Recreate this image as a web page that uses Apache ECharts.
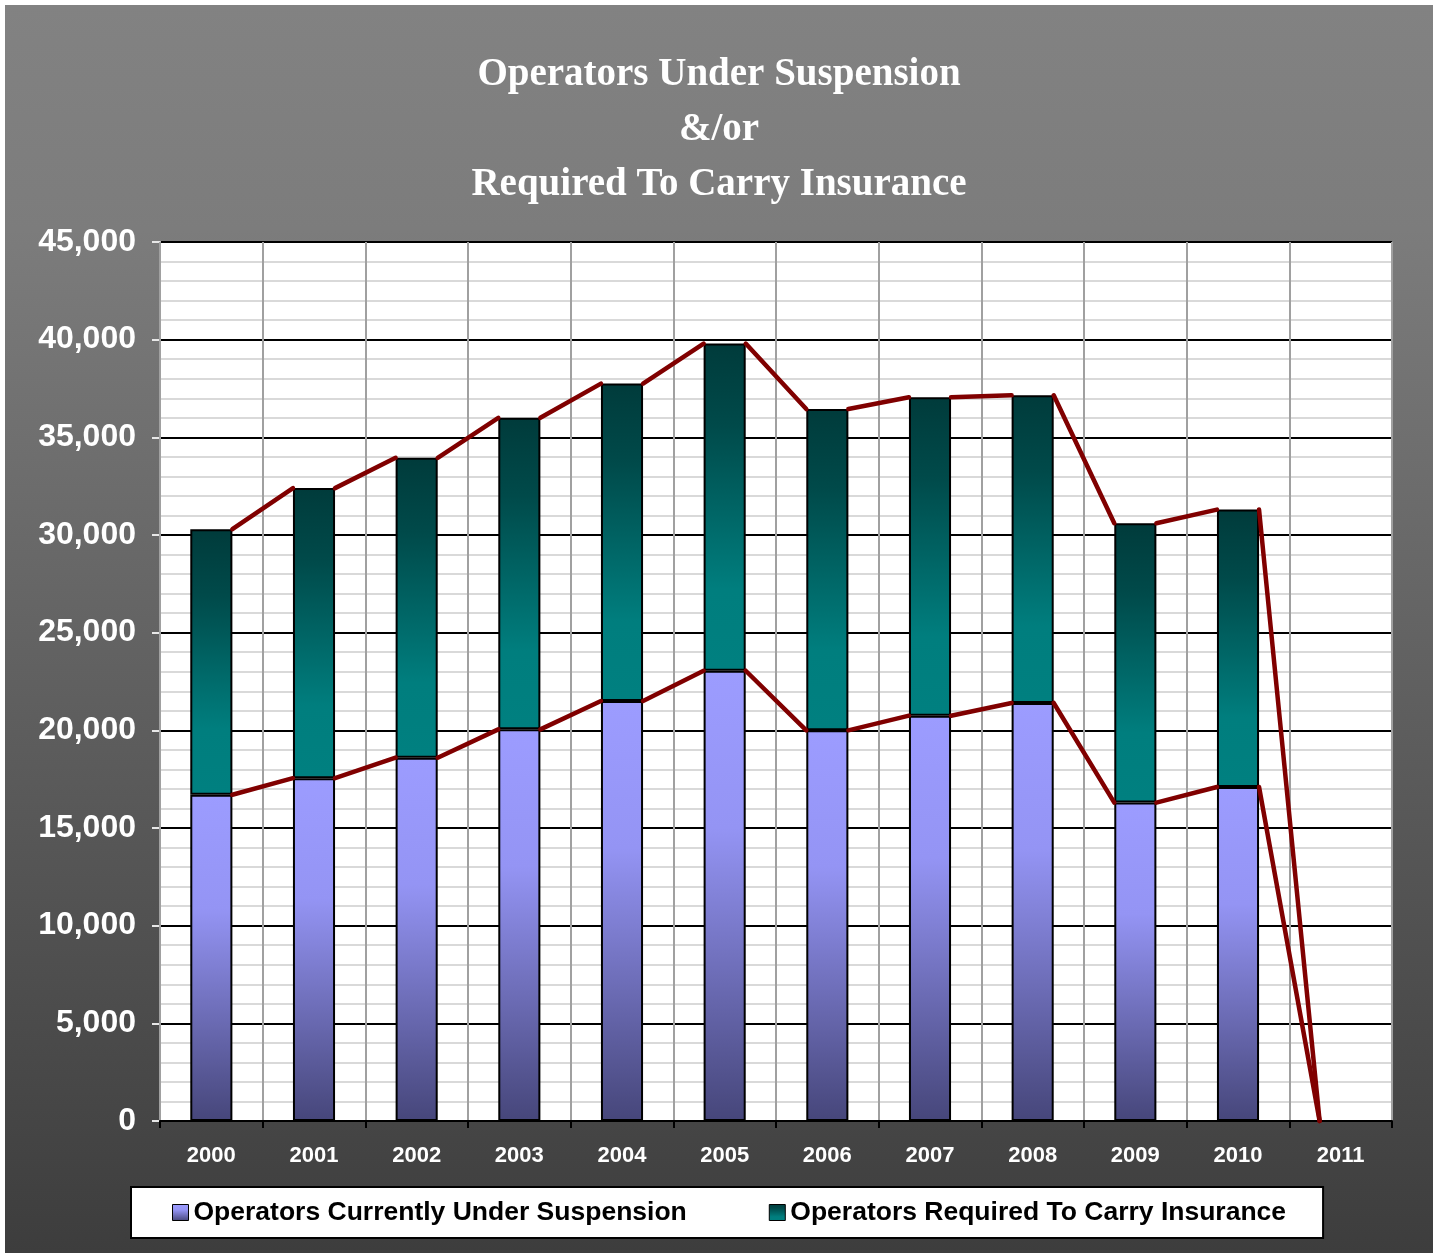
<!DOCTYPE html>
<html>
<head>
<meta charset="utf-8">
<script src="https://cdn.jsdelivr.net/npm/echarts@6/dist/echarts.min.js"></script>
<style>
  html, body { margin: 0; padding: 0; background: #ffffff; }
  #chart { position: absolute; left: 5px; top: 5px; width: 1428px; height: 1248px; }
</style>
</head>
<body>
<div id="chart"></div>
<script>
// ---- Data ----
var years = ['2000','2001','2002','2003','2004','2005','2006','2007','2008','2009','2010','2011'];
var suspension = [16700, 17550, 18600, 20050, 21500, 23050, 20000, 20750, 21400, 16300, 17100, 0];
var insurance  = [13600, 14850, 15350, 15950, 16250, 16750, 16450, 16300, 15750, 14300, 14200, 0];
var yTicks = [0, 5000, 10000, 15000, 20000, 25000, 30000, 35000, 40000, 45000];
var seriesNames = ['Operators Currently Under Suspension', 'Operators Required To Carry Insurance'];
var titleLines = ['Operators Under Suspension', '&/or', 'Required To Carry Insurance'];

// ---- Derived: series-line segments (bar top i -> bar top i+1) ----
var totals = suspension.map(function (v, i) { return v + insurance[i]; });
function segs(arr) {
  var out = [];
  for (var i = 0; i < arr.length - 1; i++) out.push([i, arr[i], arr[i + 1]]);
  return out;
}
var BAR_FRAC = 0.41;

function seriesLine(params, api) {
  var i = api.value(0);
  var p1 = api.coord([i, api.value(1)]);
  var p2 = api.coord([i + 1, api.value(2)]);
  var half = api.size([1, 0])[0] * BAR_FRAC / 2;
  return {
    type: 'line',
    shape: { x1: p1[0] + half, y1: p1[1], x2: p2[0] - half, y2: p2[1] },
    style: { stroke: '#800000', lineWidth: 4.5, lineCap: 'round' }
  };
}

var lavender = new echarts.graphic.LinearGradient(0, 0, 0, 1, [
  { offset: 0, color: '#9c9cff' },
  { offset: 0.35, color: '#9494f4' },
  { offset: 1, color: '#46467a' }
]);
var teal = new echarts.graphic.LinearGradient(0, 0, 0, 1, [
  { offset: 0, color: '#003b3b' },
  { offset: 0.25, color: '#004a4a' },
  { offset: 0.75, color: '#007e7e' },
  { offset: 1, color: '#008080' }
]);

var chart = echarts.init(document.getElementById('chart'));
chart.setOption({
  animation: false,
  backgroundColor: new echarts.graphic.LinearGradient(0, 0, 0, 1, [
    { offset: 0, color: '#828282' },
    { offset: 0.18, color: '#7c7c7c' },
    { offset: 1, color: '#3d3d3d' }
  ]),
  title: {
    text: titleLines.join('\n'),
    left: 'center',
    top: 37,
    textStyle: {
      color: '#ffffff',
      fontFamily: 'Liberation Serif',
      fontWeight: 'bold',
      fontSize: 39,
      lineHeight: 55
    }
  },
  legend: {
    data: seriesNames,
    left: 126,
    top: 1182,
    orient: 'horizontal',
    backgroundColor: '#ffffff',
    borderColor: '#000000',
    borderWidth: 2,
    padding: [12, 37, 12, 41],
    itemGap: 82,
    itemWidth: 16,
    itemHeight: 16,
    icon: 'rect',
    itemStyle: { borderColor: '#000000', borderWidth: 1 },
    textStyle: {
      color: '#000000',
      fontFamily: 'Liberation Sans',
      fontWeight: 'bold',
      fontSize: 26.5
    }
  },
  grid: {
    left: 155,
    right: 41,
    top: 237,
    bottom: 132,
    show: true,
    backgroundColor: '#ffffff',
    borderWidth: 0
  },
  xAxis: {
    type: 'category',
    data: years,
    boundaryGap: true,
    axisLine: { show: true, lineStyle: { color: '#000000', width: 2 } },
    axisTick: { show: true, length: 7, lineStyle: { color: '#000000', width: 2 } },
    axisLabel: {
      color: '#ffffff',
      fontFamily: 'Liberation Sans',
      fontWeight: 'bold',
      fontSize: 22,
      margin: 24
    },
    splitLine: { show: true, lineStyle: { color: '#a0a0a0', width: 2 } },
    z: 5
  },
  yAxis: {
    type: 'value',
    min: yTicks[0],
    max: yTicks[yTicks.length - 1],
    interval: yTicks[1] - yTicks[0],
    axisLine: { show: true, lineStyle: { color: '#ffffff', width: 2 } },
    axisTick: { show: true, length: 8, lineStyle: { color: '#e8e8e8', width: 2 } },
    axisLabel: {
      color: '#ffffff',
      fontFamily: 'Liberation Sans',
      fontWeight: 'bold',
      fontSize: 32,
      margin: 24,
      formatter: function (v) { return v.toLocaleString('en-US'); }
    },
    splitLine: { show: true, lineStyle: { color: '#000000', width: 2 } },
    minorTick: { show: false, splitNumber: 5 },
    minorSplitLine: { show: true, lineStyle: { color: '#d9d9d9', width: 2 } }
  },
  series: [
    {
      name: seriesNames[0],
      type: 'bar',
      stack: 'ops',
      data: suspension,
      barWidth: (BAR_FRAC * 100) + '%',
      itemStyle: { color: lavender, borderColor: '#000000', borderWidth: 2 },
      z: 3
    },
    {
      name: seriesNames[1],
      type: 'bar',
      stack: 'ops',
      data: insurance,
      barWidth: (BAR_FRAC * 100) + '%',
      itemStyle: { color: teal, borderColor: '#000000', borderWidth: 2 },
      z: 3
    },
    {
      name: 'lowerLine',
      type: 'custom',
      renderItem: seriesLine,
      data: segs(suspension),
      encode: { x: 0, y: [1, 2] },
      z: 6,
      silent: true
    },
    {
      name: 'upperLine',
      type: 'custom',
      renderItem: seriesLine,
      data: segs(totals),
      encode: { x: 0, y: [1, 2] },
      z: 6,
      silent: true
    }
  ]
});
</script>
</body>
</html>
